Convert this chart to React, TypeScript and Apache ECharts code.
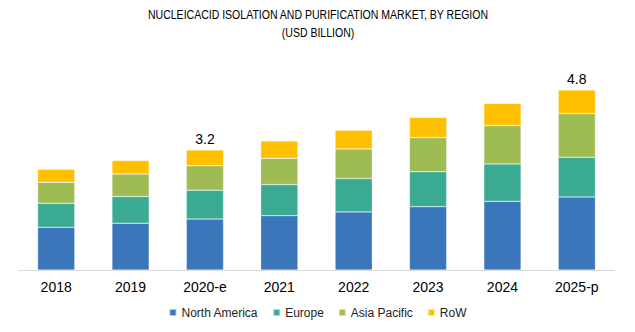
import React, { useEffect, useRef } from "react";
import * as echarts from "echarts";

const categories = ["2018", "2019", "2020-e", "2021", "2022", "2023", "2024", "2025-p"];
const northAmerica = [1.14, 1.25, 1.36, 1.45, 1.55, 1.69, 1.83, 1.95];
const europe = [0.64, 0.71, 0.77, 0.83, 0.89, 0.93, 1.0, 1.06];
const asiaPacific = [0.56, 0.6, 0.65, 0.7, 0.79, 0.91, 1.02, 1.16];
const row = [0.35, 0.36, 0.42, 0.46, 0.5, 0.54, 0.59, 0.63];
const totalLabels: (string | null)[] = [null, null, "3.2", null, null, null, null, "4.8"];

const font = "'Liberation Sans', Arial, sans-serif";

export default function App() {
  const ref = useRef<HTMLDivElement>(null);
  useEffect(() => {
    if (!ref.current) return;
    const chart = echarts.init(ref.current, undefined, { renderer: "svg" });
    const mk = (name: string, data: number[], color: string, last = false) => ({
      name,
      type: "bar",
      stack: "total",
      barWidth: "50%",
      itemStyle: { color, borderColor: "rgba(255,255,255,0.6)", borderWidth: 0.5 },
      data: last
        ? data.map((v, i) =>
            totalLabels[i]
              ? {
                  value: v,
                  label: {
                    show: true,
                    position: "top",
                    formatter: totalLabels[i],
                    color: "#000",
                    fontSize: 14,
                    fontFamily: font,
                    distance: 4,
                  },
                }
              : v
          )
        : data,
    });
    chart.setOption({
      animation: false,
      backgroundColor: "#fff",
      graphic: [
        {
          type: "text",
          x: 318,
          y: 6,
          scaleX: 0.81,
          style: {
            text: "NUCLEICACID ISOLATION AND PURIFICATION MARKET, BY REGION\n(USD BILLION)",
            textAlign: "center",
            fill: "#000",
            fontSize: 13,
            fontFamily: font,
            lineHeight: 18,
          },
        },
      ],
      legend: {
        top: 301.5,
        left: "center",
        itemWidth: 7,
        itemHeight: 7,
        itemGap: 14,
        icon: "rect",
        textStyle: { fontSize: 12, color: "#222", fontFamily: font },
        data: ["North America", "Europe", "Asia Pacific", "RoW"],
      },
      grid: { left: 19, right: 21, top: 82.5, bottom: 62 },
      xAxis: {
        type: "category",
        data: categories,
        axisLine: { lineStyle: { color: "#d9d9d9" } },
        axisTick: { show: false },
        axisLabel: { color: "#000", fontSize: 14, fontFamily: font, margin: 10 },
      },
      yAxis: {
        type: "value",
        min: 0,
        max: 5,
        show: false,
        splitLine: { show: false },
      },
      series: [
        mk("North America", northAmerica, "#3a76b9"),
        mk("Europe", europe, "#3aaa93"),
        mk("Asia Pacific", asiaPacific, "#9fbb53"),
        mk("RoW", row, "#ffc000", true),
      ],
    });
    return () => chart.dispose();
  }, []);
  return (
    <div
      ref={ref}
      style={{ position: "fixed", left: 0, top: 0, width: 635, height: 332 }}
    />
  );
}
